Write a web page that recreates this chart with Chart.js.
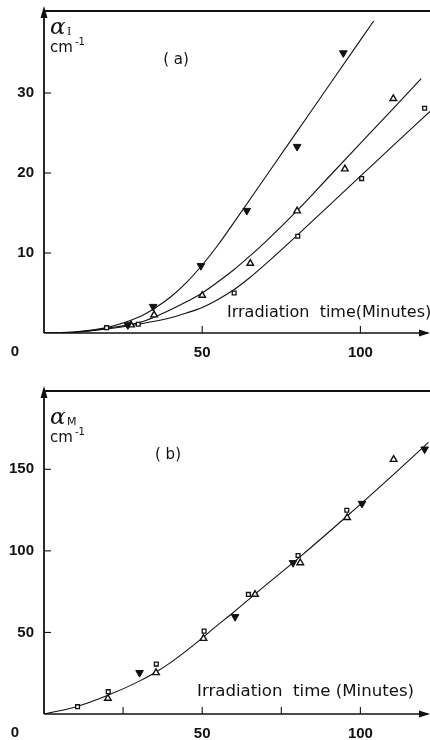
<!DOCTYPE html>
<html>
<head>
<meta charset="utf-8">
<script src="https://cdn.jsdelivr.net/npm/chart.js@4.4.1/dist/chart.umd.min.js"></script>
<style>
  html, body { margin: 0; padding: 0; background: #fff; }
  #wrap { position: relative; width: 430px; height: 740px; overflow: hidden; }
  canvas { position: absolute; left: 0; }
  #ca { top: 0; }
  #cb { top: 370px; }
</style>
</head>
<body>
<div id="wrap">
  <canvas id="ca" width="430" height="370"></canvas>
  <canvas id="cb" width="430" height="370"></canvas>
</div>
<script>
// ---------- Panel (a) data: alpha_I (cm^-1) vs irradiation time (min) ----------
const aTimeDown = [26.5, 34.5, 49.6, 64.1, 80.0, 94.6];
const aDown     = [1.0, 3.3, 8.4, 15.3, 23.3, 35.0];
const aTimeUp   = [27.5, 34.8, 50.0, 65.2, 80.0, 95.1, 110.4];
const aUp       = [1.0, 2.25, 4.7, 8.7, 15.25, 20.5, 29.3];
const aTimeSq   = [19.8, 29.8, 60.1, 80.2, 100.4, 120.3];
const aSq       = [0.67, 1.1, 5.0, 12.1, 19.3, 28.1];

// fitted curves
const aCurveDownT = [0, 10, 20, 30, 35, 40, 45, 50, 55, 60, 70, 80, 90, 104.2];
const aCurveDown  = [0, 0.15, 0.7, 2.0, 3.1, 4.5, 6.3, 8.5, 11.0, 13.8, 19.5, 25.2, 30.9, 39.0];
const aCurveUpT   = [0, 10, 20, 30, 35, 40, 45, 50, 55, 60, 65, 70, 80, 90, 100, 110, 119.2];
const aCurveUp    = [0, 0.1, 0.6, 1.3, 2.0, 2.9, 3.9, 5.0, 6.4, 7.9, 9.6, 11.4, 15.3, 19.5, 23.7, 27.9, 31.8];
const aCurveSqT   = [0, 10, 20, 30, 40, 45, 50, 55, 60, 65, 70, 80, 90, 100, 110, 122];
const aCurveSq    = [0, 0.1, 0.5, 1.1, 1.9, 2.5, 3.2, 4.2, 5.4, 6.9, 8.6, 12.2, 15.9, 19.6, 23.3, 27.7];

const aYTicks = [10, 20, 30];
const aXTicks = [50, 100];

// ---------- Panel (b) data: alpha_M (cm^-1) vs irradiation time (min) ----------
const bTimeSq   = [10.6, 20.3, 35.5, 50.6, 64.6, 80.3, 95.7];
const bSq       = [4.5, 13.7, 30.6, 50.8, 73.3, 97.2, 124.9];
const bTimeUp   = [20.2, 35.4, 50.4, 66.7, 81.0, 95.8, 110.5];
const bUp       = [9.6, 25.3, 46.3, 73.3, 92.7, 120.4, 156.0];
const bTimeDown = [30.2, 60.4, 78.7, 100.5, 120.3];
const bDown     = [25.3, 59.6, 92.7, 129.0, 162.3];

const bCurveT = [0, 10, 20, 30, 35, 40, 50, 53.6, 60, 70, 81, 95, 110, 121.5];
const bCurve  = [0, 4.3, 11.3, 20, 25.3, 31.5, 46.5, 52.5, 62.5, 78.8, 96.5, 120, 146, 166.5];

const bYTicks = [50, 100, 150];
const bXTicks = [25, 50, 75, 100];
const bXLabels = ['', '50', '', '100'];

const xMax = 122;

function pts(xs, ys) { return xs.map((x, i) => ({ x: x, y: ys[i] })); }

const FONT = '"Liberation Sans", Arial, sans-serif';
const TFONT = '"DejaVu Sans", sans-serif';

function curveDS(xs, ys) {
  return { type: 'line', data: pts(xs, ys), borderColor: '#111', borderWidth: 1.1,
           pointRadius: 0, fill: false, cubicInterpolationMode: 'monotone', order: 2 };
}
function downDS(xs, ys) {
  return { type: 'scatter', data: pts(xs, ys), pointStyle: 'triangle', rotation: 180,
           pointRadius: 4.4, backgroundColor: '#111', borderColor: '#111', borderWidth: 1, order: 1 };
}
function upDS(xs, ys) {
  return { type: 'scatter', data: pts(xs, ys), pointStyle: 'triangle', pointRadius: 3.8,
           backgroundColor: '#fff', borderColor: '#111', borderWidth: 1.4, order: 1 };
}
function sqDS(xs, ys) {
  return { type: 'scatter', data: pts(xs, ys), pointStyle: 'rect', pointRadius: 2.7,
           backgroundColor: '#fff', borderColor: '#111', borderWidth: 1.3, order: 1 };
}

function axesPlugin(cfg) {
  return {
    id: 'axesDraw',
    afterDraw(chart) {
      const ctx = chart.ctx;
      const a = chart.chartArea;
      const xs = chart.scales.x, ys = chart.scales.y;
      const L = a.left, B = a.bottom, T = a.top, R = chart.width;
      ctx.save();
      ctx.strokeStyle = '#111'; ctx.fillStyle = '#111';
      // top frame line
      ctx.lineWidth = 2.2;
      ctx.beginPath(); ctx.moveTo(L, T); ctx.lineTo(R, T); ctx.stroke();
      // y axis with arrow
      ctx.lineWidth = 1.8;
      ctx.beginPath(); ctx.moveTo(L, B); ctx.lineTo(L, T - 2); ctx.stroke();
      ctx.beginPath(); ctx.moveTo(L, T - 5); ctx.lineTo(L - 3.5, T + 7); ctx.lineTo(L + 3.5, T + 7); ctx.closePath(); ctx.fill();
      // x axis with arrow
      ctx.lineWidth = 1.5;
      ctx.beginPath(); ctx.moveTo(L, B); ctx.lineTo(R - 2, B); ctx.stroke();
      ctx.beginPath(); ctx.moveTo(R, B); ctx.lineTo(R - 11, B - 3.5); ctx.lineTo(R - 11, B + 3.5); ctx.closePath(); ctx.fill();
      // inward ticks
      ctx.lineWidth = 1.1;
      cfg.yTicks.forEach(v => {
        const y = ys.getPixelForValue(v);
        ctx.beginPath(); ctx.moveTo(L, y); ctx.lineTo(L + 7, y); ctx.stroke();
      });
      cfg.xTicks.forEach(v => {
        const x = xs.getPixelForValue(v);
        ctx.beginPath(); ctx.moveTo(x, B); ctx.lineTo(x, B - 7); ctx.stroke();
      });
      // origin label
      ctx.font = 'bold 15px ' + FONT;
      ctx.textAlign = 'center'; ctx.textBaseline = 'middle';
      ctx.fillText('0', 15, B + cfg.zeroDy);
      // x title
      ctx.font = cfg.titleFont;
      ctx.textAlign = 'left';
      ctx.fillText(cfg.xTitle, cfg.xTitleX, B + cfg.xTitleDy);
      // panel label
      ctx.font = '15px ' + TFONT;
      ctx.textAlign = 'center';
      ctx.fillText(cfg.panel, cfg.panelX, T + cfg.panelDy);
      // y title (alpha with subscript, cm^-1)
      ctx.textAlign = 'left';
      ctx.font = 'italic 23px "DejaVu Serif", serif';
      ctx.fillText('α', L + 6, T + cfg.alphaDy);
      ctx.font = cfg.subFont;
      ctx.fillText(cfg.sub, L + 23, T + cfg.alphaDy + 4);
      ctx.font = '15px ' + TFONT;
      ctx.fillText('cm', L + 6, T + cfg.alphaDy + 20);
      ctx.font = '10px ' + TFONT;
      ctx.fillText('-1', L + 31, T + cfg.alphaDy + 14);
      ctx.restore();
    }
  };
}

function makeChart(id, datasets, yMax, yTicks, xTicks, xLabelFn, area, cfg) {
  const ch = new Chart(document.getElementById(id), {
    data: { datasets: datasets },
    options: {
      responsive: false, animation: false,
      layout: { autoPadding: false, padding: { top: area.top, right: 0, left: 0, bottom: 0 } },
      plugins: { legend: { display: false }, tooltip: { enabled: false } },
      scales: {
        x: {
          type: 'linear', min: 0, max: xMax,
          grid: { display: false, drawTicks: false }, border: { display: false },
          afterBuildTicks: s => { s.ticks = xTicks.map(v => ({ value: v })); },
          afterFit: s => { s.height = 370 - area.bottom; s.paddingLeft = 0; s.paddingRight = 0; },
          ticks: { color: '#111', font: { family: FONT, size: 15, weight: 'bold' }, padding: 11,
                   maxRotation: 0, autoSkip: false, callback: xLabelFn }
        },
        y: {
          type: 'linear', min: 0, max: yMax,
          grid: { display: false, drawTicks: false }, border: { display: false },
          afterBuildTicks: s => { s.ticks = yTicks.map(v => ({ value: v })); },
          afterFit: s => { s.width = area.left; s.paddingTop = 0; s.paddingBottom = 0; },
          ticks: { color: '#111', font: { family: FONT, size: 15, weight: 'bold' }, padding: 10,
                   autoSkip: false, callback: v => String(v) }
        }
      }
    },
    plugins: [axesPlugin(cfg)]
  });
  // fine-tune chart area to the intended frame
  const ca = ch.chartArea;
  const p = ch.options.layout.padding;
  const dT = area.top - ca.top, dR = ca.right - 430, dL = area.left - ca.left, dB = ca.bottom - area.bottom;
  if (dT || dR || dL || dB) {
    p.top += dT; p.right += dR; p.left += dL; p.bottom += dB;
    ch.update();
  }
  return ch;
}

makeChart('ca', [
    curveDS(aCurveDownT, aCurveDown), curveDS(aCurveUpT, aCurveUp), curveDS(aCurveSqT, aCurveSq),
    downDS(aTimeDown, aDown), upDS(aTimeUp, aUp), sqDS(aTimeSq, aSq)
  ], 40.25, aYTicks, aXTicks, v => String(v), { top: 11, left: 44, bottom: 333 },
  { yTicks: aYTicks, xTicks: aXTicks, zeroDy: 19, xTitle: 'Irradiation  time(Minutes)', xTitleX: 227, xTitleDy: -20,
    titleFont: '16px ' + TFONT,
    panel: '( a)', panelX: 176, panelDy: 49, alphaDy: 17, sub: 'I', subFont: '11px "DejaVu Serif", serif' });

makeChart('cb', [
    curveDS(bCurveT, bCurve),
    downDS(bTimeDown, bDown), upDS(bTimeUp, bUp), sqDS(bTimeSq, bSq)
  ], 198, bYTicks, bXTicks, (v, i) => bXLabels[i], { top: 21, left: 44, bottom: 344 },
  { yTicks: bYTicks, xTicks: bXTicks, zeroDy: 19, xTitle: 'Irradiation  time (Minutes)', xTitleX: 197, xTitleDy: -22,
    titleFont: '16.6px ' + TFONT,
    panel: '( b)', panelX: 168, panelDy: 64, alphaDy: 27, sub: 'M', subFont: '11px ' + TFONT });
</script>
</body>
</html>
